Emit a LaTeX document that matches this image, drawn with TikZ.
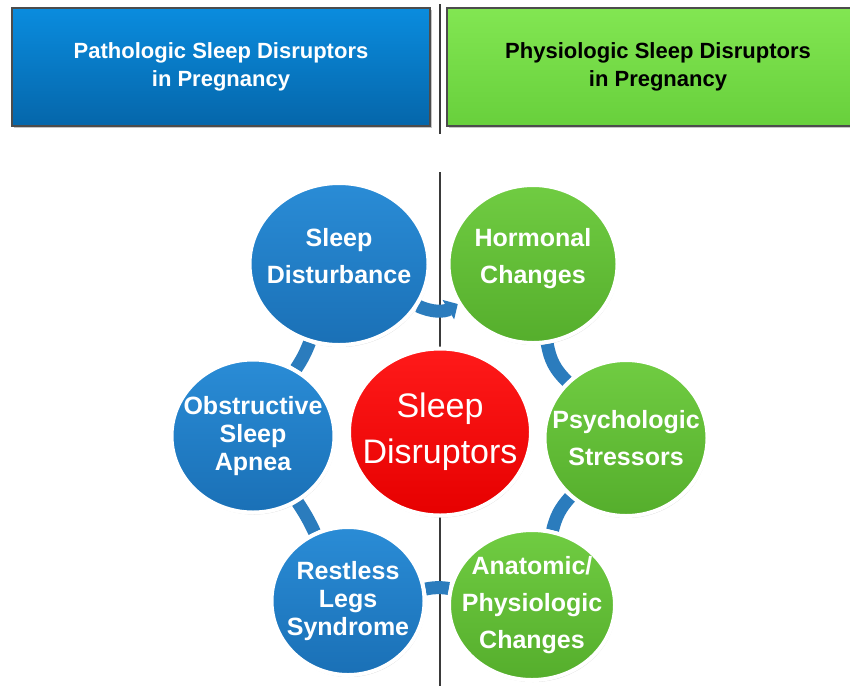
\documentclass[tikz,border=0pt]{standalone}
\usepackage{fontspec}
\setmainfont{Liberation Sans}
\usetikzlibrary{shapes.geometric,shadows,arrows.meta,backgrounds}
\definecolor{hbT}{HTML}{0A8CDE}
\definecolor{hbB}{HTML}{0566AA}
\definecolor{hgT}{HTML}{82E652}
\definecolor{hgB}{HTML}{68D03C}
\definecolor{cbT}{HTML}{2A8CD6}
\definecolor{cbB}{HTML}{1A70B6}
\definecolor{cgT}{HTML}{70CC42}
\definecolor{cgB}{HTML}{55AE2C}
\definecolor{crT}{HTML}{FF1A1A}
\definecolor{crB}{HTML}{E60000}
\definecolor{connblue}{HTML}{2B7CBD}
\definecolor{divgray}{HTML}{3A3A3A}
\begin{document}
\begin{tikzpicture}[x=1pt,y=1pt,
  hdr/.style={rectangle, draw=black!70, line width=1.2pt, minimum width=#1, minimum height=118pt,
    align=center, inner sep=0pt, font=\bfseries\fontsize{22}{28}\selectfont,
    drop shadow={shadow xshift=2pt, shadow yshift=-2pt, opacity=0.45}},
  bub/.style={ellipse, inner sep=-40pt, draw=white, line width=4pt, align=center, text=white,
    drop shadow={shadow xshift=1pt, shadow yshift=-2pt, opacity=0.3}},
  bluebub/.style={bub, top color=cbT, bottom color=cbB},
  greenbub/.style={bub, top color=cgT, bottom color=cgB},
  two/.style={font=\bfseries\fontsize{25}{37}\selectfont},
  three/.style={font=\bfseries\fontsize{25}{28}\selectfont},
  raised/.style={text depth=16pt},
  conn/.style={draw=connblue, line width=13pt},
  divline/.style={draw=divgray, line width=1.5pt}
]
\useasboundingbox (0,0) rectangle (850,-686);
\begin{scope}[on background layer]
  \fill[white] (0,0) rectangle (850,-686);
\end{scope}

% header boxes
\node[hdr=418pt, top color=hbT, bottom color=hbB, text=white] (lh) at (221,-67)
  {Pathologic Sleep Disruptors\\in Pregnancy};
\node[hdr=422pt, top color=hgT, bottom color=hgB, text=black] (rh) at (658,-67)
  {Physiologic Sleep Disruptors\\in Pregnancy};

% bubbles
\node[bluebub, two, raised, minimum width=179pt, minimum height=162pt] (sd) at (339,-264) {Sleep\\Disturbance};
\node[greenbub, two, raised, minimum width=169pt, minimum height=158pt] (hc) at (533,-264) {Hormonal\\Changes};
\node[greenbub, two, minimum width=163pt, minimum height=156pt] (ps) at (626,-438) {Psychologic\\Stressors};
\node[greenbub, two, minimum width=166pt, minimum height=150pt] (an) at (532,-605) {Anatomic/\\Physiologic\\Changes};
\node[bluebub, three, minimum width=153pt, minimum height=148pt] (rl) at (348,-601) {Restless\\Legs\\Syndrome};
\node[bluebub, three, minimum width=163pt, minimum height=153pt] (ob) at (253,-436) {Obstructive\\Sleep\\Apnea};
\node[bub, top color=crT, bottom color=crB, font=\fontsize{34}{46}\selectfont,
  minimum width=182pt, minimum height=167pt] (ce) at (440,-432) {Sleep\\Disruptors};

% divider and connectors
\coordinate (d1) at (440,-4);
\coordinate (d2) at (440,-134);
\coordinate (d3) at (440,-172);
\coordinate (d4) at (440,-686);
\begin{scope}[on background layer]
  \draw[divline] (d1) -- (d2);
  \draw[divline] (d3) -- (d4);
  \draw[conn, -{Triangle[width=22pt,length=11pt]}] (sd) to[bend right=28] (hc);
  \draw[conn] (hc) to[bend right=18] (ps);
  \draw[conn] (ps) to[bend right=14] (an);
  \draw[conn] (an) to[bend right=10] (rl);
  \draw[conn] (rl) to[bend right=4] (ob);
  \draw[conn] (ob) to[bend right=6] (sd);
\end{scope}
\end{tikzpicture}
\end{document}
